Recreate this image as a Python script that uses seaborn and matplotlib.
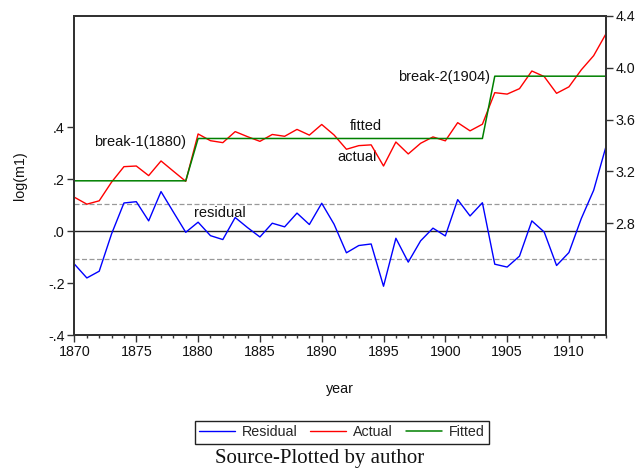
import matplotlib
matplotlib.use("Agg")
import matplotlib.pyplot as plt
import seaborn as sns
import pandas as pd
from matplotlib.ticker import MultipleLocator, FixedLocator, FixedFormatter

# Annual observations, 1870-1913
years = list(range(1870, 1914))

residual = [
    -0.127, -0.180, -0.154, -0.010, 0.109, 0.114, 0.040, 0.153, 0.074, -0.004,
    0.035, -0.017, -0.032, 0.053, 0.014, -0.022, 0.031, 0.017, 0.070, 0.026,
    0.108, 0.027, -0.083, -0.055, -0.049, -0.212, -0.027, -0.119, -0.037, 0.012,
    -0.018, 0.122, 0.059, 0.110, -0.127, -0.138, -0.096, 0.040, -0.003, -0.132,
    -0.082, 0.049, 0.158, 0.327,
]

actual = [
    3.001, 2.948, 2.974, 3.118, 3.237, 3.242, 3.168, 3.281, 3.202, 3.124,
    3.489, 3.437, 3.422, 3.507, 3.468, 3.432, 3.485, 3.471, 3.524, 3.480,
    3.562, 3.481, 3.371, 3.399, 3.405, 3.242, 3.427, 3.335, 3.417, 3.466,
    3.436, 3.576, 3.513, 3.564, 3.807, 3.796, 3.838, 3.974, 3.931, 3.802,
    3.852, 3.983, 4.092, 4.261,
]

fitted = [
    3.128, 3.128, 3.128, 3.128, 3.128, 3.128, 3.128, 3.128, 3.128, 3.128,
    3.454, 3.454, 3.454, 3.454, 3.454, 3.454, 3.454, 3.454, 3.454, 3.454,
    3.454, 3.454, 3.454, 3.454, 3.454, 3.454, 3.454, 3.454, 3.454, 3.454,
    3.454, 3.454, 3.454, 3.454, 3.934, 3.934, 3.934, 3.934, 3.934, 3.934,
    3.934, 3.934, 3.934, 3.934,
]

# standard error band around zero residual
se_band = 0.107

left_ticks = [-0.4, -0.2, 0.0, 0.2, 0.4]
left_labels = ["-.4", "-.2", ".0", ".2", ".4"]
right_ticks = [2.8, 3.2, 3.6, 4.0, 4.4]
right_labels = ["2.8", "3.2", "3.6", "4.0", "4.4"]

df = pd.DataFrame({"year": years, "Residual": residual,
                   "Actual": actual, "Fitted": fitted})

sns.set_theme(style="ticks")
plt.rcParams["font.family"] = ["Liberation Sans", "DejaVu Sans"]

frame_col = "#333333"
fig = plt.figure(figsize=(6.4, 4.7), dpi=100)
ax = fig.add_axes([0.1164, 0.2872, 0.8305, 0.6794])
ax2 = ax.twinx()

# residual panel (left scale)
ax.axhline(0.0, color="#222222", lw=1.0, zorder=1)
ax.axhline(se_band, color="#999999", lw=0.9, ls=(0, (4, 2)), zorder=1)
ax.axhline(-se_band, color="#999999", lw=0.9, ls=(0, (4, 2)), zorder=1)
sns.lineplot(data=df, x="year", y="Residual", ax=ax, color="#0000ff",
             lw=1.0, label="Residual", legend=False)

# actual and fitted (right scale)
sns.lineplot(data=df, x="year", y="Actual", ax=ax2, color="#ff0000",
             lw=1.0, label="Actual", legend=False)
sns.lineplot(data=df, x="year", y="Fitted", ax=ax2, color="#008000",
             lw=1.1, label="Fitted", legend=False)

ax.set_xlim(1870, 1913)
ax.set_ylim(-0.4, 0.831)
ax2.set_ylim(1.94, 4.40)

ax.xaxis.set_major_locator(MultipleLocator(5))
ax.xaxis.set_minor_locator(MultipleLocator(1))
ax.yaxis.set_major_locator(FixedLocator(left_ticks))
ax.yaxis.set_major_formatter(FixedFormatter(left_labels))
ax2.yaxis.set_major_locator(FixedLocator(right_ticks))
ax2.yaxis.set_major_formatter(FixedFormatter(right_labels))

for a in (ax, ax2):
    for s in a.spines.values():
        s.set_color(frame_col)
        s.set_linewidth(1.4)
    a.tick_params(axis="both", which="major", length=5, width=1.0,
                  color=frame_col, labelsize=10.3, labelcolor="#111111", pad=2)
    a.tick_params(axis="x", which="minor", length=2.5, width=1.0, color=frame_col)
    a.grid(False)

ax.set_xlabel("year", fontsize=10.3, labelpad=17, color="#111111")
ax.set_ylabel("log(m1)", fontsize=10.3, labelpad=15, color="#111111")
ax2.set_ylabel("")

# in-plot annotations (left-scale coordinates)
txt = dict(fontsize=10.5, color="#111111", va="center", ha="left")
ax.text(1871.6, 0.343, "break-1(1880)", **txt)
ax.text(1896.2, 0.593, "break-2(1904)", **txt)
ax.text(1892.3, 0.404, "fitted", **txt)
ax.text(1891.3, 0.288, "actual", **txt)
ax.text(1879.7, 0.070, "residual", **txt)

handles = ax.get_lines()[3:] + ax2.get_lines()
fig.legend(handles=handles, labels=["Residual", "Actual", "Fitted"],
           loc="center", bbox_to_anchor=(0.534, 0.080), ncol=3,
           fontsize=10.3, frameon=True, fancybox=False, edgecolor="#222222",
           framealpha=1.0, handlelength=2.5, handletextpad=0.5,
           columnspacing=0.9, borderpad=0.3, borderaxespad=0)
fig.legends[0].get_frame().set_linewidth(1.0)

fig.text(0.5, 0.024, "Source-Plotted by author", ha="center", va="center",
         fontsize=15, family=["Liberation Serif", "DejaVu Serif"], color="#111111")

fig.savefig("out.png", dpi=100, facecolor="white")
